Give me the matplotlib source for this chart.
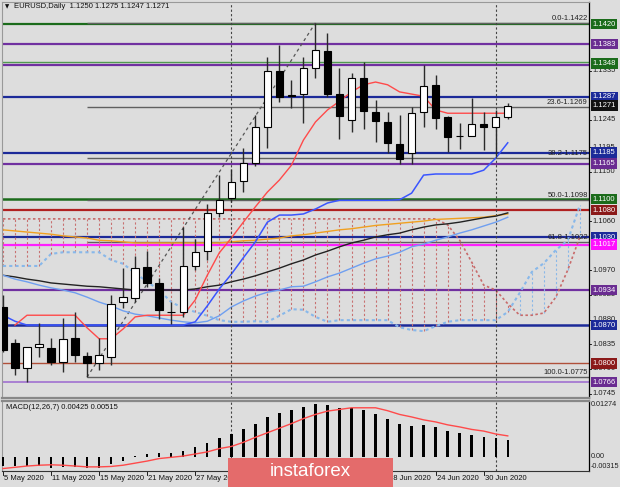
import numpy as np
import matplotlib.pyplot as plt
from matplotlib.patches import Rectangle

# EURUSD daily candles, 5 May 2020 .. 2 Jul 2020 (bar index 0..42)
opens = [1.0903, 1.0837, 1.0792, 1.0830, 1.0829, 1.0803, 1.0846, 1.0813, 1.0801, 1.0811,
         1.0912, 1.0920, 1.0977, 1.0946, 1.0894, 1.0893, 1.0978, 1.1006, 1.1074, 1.1103,
         1.1133, 1.1167, 1.1231, 1.1335, 1.1290, 1.1292, 1.1340, 1.1371, 1.1293, 1.1245,
         1.1322, 1.1259, 1.1241, 1.1201, 1.1184, 1.1259, 1.1309, 1.1251, 1.1215, 1.1215,
         1.1237, 1.1231, 1.1250]
highs = [1.0925, 1.0845, 1.0830, 1.0874, 1.0846, 1.0883, 1.0894, 1.0821, 1.0846, 1.0925,
         1.0974, 1.0996, 1.1006, 1.0956, 1.0913, 1.1050, 1.1028, 1.1092, 1.1144, 1.1156,
         1.1193, 1.1254, 1.1360, 1.1382, 1.1318, 1.1360, 1.1422, 1.1403, 1.1339, 1.1330,
         1.1351, 1.1281, 1.1260, 1.1254, 1.1269, 1.1345, 1.1327, 1.1252, 1.1239, 1.1284,
         1.1260, 1.1263, 1.1275]
lows = [1.0821, 1.0779, 1.0766, 1.0812, 1.0797, 1.0785, 1.0803, 1.0775, 1.0788, 1.0797,
        1.0901, 1.0912, 1.0940, 1.0881, 1.0872, 1.0885, 1.0971, 1.0989, 1.1067, 1.1095,
        1.1114, 1.1160, 1.1193, 1.1278, 1.1266, 1.1239, 1.1321, 1.1287, 1.1210, 1.1223,
        1.1228, 1.1205, 1.1184, 1.1165, 1.1165, 1.1232, 1.1229, 1.1187, 1.1191, 1.1215,
        1.1190, 1.1178, 1.1247]
closes = [1.0824, 1.0792, 1.0830, 1.0835, 1.0803, 1.0844, 1.0815, 1.0801, 1.0815, 1.0908,
          1.0921, 1.0975, 1.0946, 1.0898, 1.0893, 1.0978, 1.1003, 1.1074, 1.1098, 1.1132,
          1.1167, 1.1231, 1.1335, 1.1287, 1.1289, 1.1339, 1.1372, 1.1293, 1.1252, 1.1321,
          1.1261, 1.1242, 1.1202, 1.1173, 1.1257, 1.1307, 1.1248, 1.1214, 1.1216, 1.1237,
          1.1231, 1.1250, 1.1271]

# Ichimoku lines
tenkan = [np.nan, 1.0870, 1.0888, 1.0888, 1.0888, 1.0888, 1.0888, 1.0865, 1.0845, 1.0845,
          1.0863, 1.0885, 1.0888, 1.0888, 1.0888, 1.0888, 1.0916, 1.0961, 1.1002, 1.1029,
          1.1058, 1.1086, 1.1113, 1.1135, 1.1162, 1.1208, 1.1241, 1.1263, 1.1279, 1.1296,
          1.1309, 1.1314, 1.1309, 1.1296, 1.1292, 1.1288, 1.1263, 1.1257, 1.1257, 1.1257,
          1.1257, 1.1257, 1.1257]
kijun = [1.0888, 1.0877, 1.0870, 1.0870, 1.0870, 1.0870, 1.0870, 1.0870, 1.0870, 1.0870,
         1.0870, 1.0870, 1.0870, 1.0870, 1.0870, 1.0870, 1.0876, 1.0905, 1.0936, 1.0963,
         1.0993, 1.1022, 1.1058, 1.1071, 1.1071, 1.1073, 1.1082, 1.1093, 1.1098, 1.1098,
         1.1098, 1.1098, 1.1098, 1.1099, 1.1111, 1.1144, 1.1146, 1.1146, 1.1146, 1.1146,
         1.1153, 1.1175, 1.1203]
# cloud spans run 6 bars past the last candle (index 0..48)
span_a = [1.0978, 1.0978, 1.0978, 1.0978, 1.1000, 1.1003, 1.1003, 1.1003, 1.1003, 1.0989,
          1.0982, 1.0965, 1.0949, 1.0934, 1.0912, 1.0901, 1.0894, 1.0887, 1.0879, 1.0876,
          1.0876, 1.0877, 1.0876, 1.0887, 1.0899, 1.0898, 1.0885, 1.0876, 1.0879, 1.0879,
          1.0879, 1.0879, 1.0879, 1.0866, 1.0861, 1.0859, 1.0868, 1.0876, 1.0879, 1.0879,
          1.0879, 1.0879, 1.0894, 1.0929, 1.0967, 1.0983, 1.1007, 1.1025, 1.1089]
span_b = [1.1064] * 37 + [1.1053, 1.1025, 1.0985, 1.0943, 1.0934, 1.0909, 1.0888, 1.0888,
                          1.0892, 1.0921, 1.0971, 1.1031]

# moving averages
ma_black = [1.0961, 1.0958, 1.0954, 1.0951, 1.0947, 1.0945, 1.0943, 1.0941, 1.0940, 1.0938,
            1.0936, 1.0934, 1.0934, 1.0934, 1.0934, 1.0934, 1.0936, 1.0940, 1.0943, 1.0949,
            1.0954, 1.0960, 1.0967, 1.0974, 1.0982, 1.0989, 1.0998, 1.1005, 1.1013, 1.1020,
            1.1025, 1.1031, 1.1035, 1.1038, 1.1044, 1.1049, 1.1053, 1.1055, 1.1058, 1.1062,
            1.1066, 1.1069, 1.1075]
ma_blue = [1.0961, 1.0954, 1.0949, 1.0943, 1.0938, 1.0934, 1.0929, 1.0921, 1.0912, 1.0905,
           1.0896, 1.0890, 1.0887, 1.0883, 1.0879, 1.0876, 1.0874, 1.0877, 1.0887, 1.0903,
           1.0914, 1.0923, 1.0930, 1.0934, 1.0940, 1.0941, 1.0949, 1.0958, 1.0965, 1.0974,
           1.0983, 1.0991, 1.0996, 1.1003, 1.1013, 1.1018, 1.1025, 1.1031, 1.1038, 1.1044,
           1.1051, 1.1058, 1.1067]
ma_orange = [1.1044, 1.1042, 1.1040, 1.1038, 1.1036, 1.1033, 1.1031, 1.1029, 1.1025, 1.1024,
             1.1022, 1.1020, 1.1020, 1.1020, 1.1020, 1.1020, 1.1020, 1.1020, 1.1020, 1.1022,
             1.1024, 1.1025, 1.1027, 1.1029, 1.1033, 1.1035, 1.1038, 1.1041, 1.1044, 1.1046,
             1.1049, 1.1052, 1.1054, 1.1056, 1.1058, 1.1060, 1.1063, 1.1064, 1.1065, 1.1066,
             1.1067, 1.1070, 1.1073]

# MACD(12,26,7) histogram and signal
macd_hist = [-0.0020, -0.0022, -0.0022, -0.0022, -0.0026, -0.0024, -0.0024, -0.0026, -0.0026,
             -0.0016, -0.0010, 0.0002, 0.0008, 0.0010, 0.0010, 0.0016, 0.0025, 0.00353,
             0.00464, 0.00570, 0.00673, 0.00793, 0.00978, 0.01075, 0.01147, 0.01209,
             0.01274, 0.01267, 0.01195, 0.01185, 0.01130, 0.01034, 0.00913, 0.00793,
             0.00762, 0.00786, 0.00728, 0.00642, 0.00584, 0.00536, 0.00498, 0.00474, 0.00425]
macd_signal = [-0.0027, -0.0024, -0.0021, -0.0019, -0.0018, -0.0019, -0.0021, -0.0023,
               -0.0023, -0.0022, -0.0019, -0.0014, -0.0009, -0.0003, 0.0000, 0.0003, 0.0008,
               0.0013, 0.0021, 0.0026, 0.0036, 0.0048, 0.0059, 0.0070, 0.0081, 0.0093,
               0.0103, 0.0111, 0.0115, 0.0119, 0.0119, 0.0119, 0.0112, 0.0103, 0.0097,
               0.0090, 0.0085, 0.0078, 0.0073, 0.0067, 0.0063, 0.0056, 0.00515]

# horizontal support / resistance levels
level_values = [1.1420, 1.1383, 1.1350, 1.1346, 1.1287, 1.1185, 1.1165, 1.1100, 1.1080,
                1.1030, 1.1017, 1.0934, 1.0870, 1.0800, 1.0766]
level_colors = ["#1b6b1b", "#7030a0", "#4f9a4f", "#7030a0", "#1c2a99", "#1c2a99", "#7030a0",
                "#1b6b1b", "#b02020", "#1c2a99", "#ff20ff", "#7030a0", "#1c2a99", "#b0503a",
                "#a070d0"]
level_widths = [1.6, 1.6, 1.0, 1.6, 1.6, 1.6, 1.6, 1.8, 1.6, 1.6, 1.6, 1.6, 1.8, 1.0, 1.2]

# Fibonacci retracement (swing low bar 7 -> swing high bar 26)
fib_start, fib_end = 7, 26
fib_levels = [1.1422, 1.1269, 1.1175, 1.1098, 1.1022, 1.0775]
fib_names = ["0.0-1.1422", "23.6-1.1269", "38.2-1.1175", "50.0-1.1098", "61.8-1.1022",
             "100.0-1.0775"]

# right axis (plain grid prices; the ones fully hidden under tags are left out)
price_ticks = [1.1335, 1.1245, 1.1195, 1.1150, 1.1060, 1.0970, 1.0925, 1.0880, 1.0835,
               1.0790, 1.0745]
tag_values = [1.1420, 1.1383, 1.1348, 1.1287, 1.1271, 1.1185, 1.1165, 1.1100, 1.1080,
              1.1030, 1.1017, 1.0934, 1.0870, 1.0800, 1.0766]
tag_colors = ["#1b6b1b", "#6a2c91", "#1b6b1b", "#1c2a99", "#111111", "#1c2a99", "#6a2c91",
              "#1b6b1b", "#8b1a1a", "#1c2a99", "#ff10ff", "#6a2c91", "#1c2a99", "#8b1a1a",
              "#6a2c91"]

date_bars = [0, 4, 8, 12, 16, 20, 24, 28, 32, 36, 40]
date_labels = ["5 May 2020", "11 May 2020", "15 May 2020", "21 May 2020", "27 May 2020",
               "2 Jun 2020", "8 Jun 2020", "12 Jun 2020", "18 Jun 2020", "24 Jun 2020",
               "30 Jun 2020"]
month_breaks = [19, 41]

BG = "#dddddd"
FONT = "Liberation Sans"
FS = 5.5
W, H = 620, 487

plt.rcParams["font.family"] = [FONT, "DejaVu Sans"]

fig = plt.figure(figsize=(W / 100, H / 100), dpi=100, facecolor=BG)
ax = fig.add_axes([2 / W, (H - 398) / H, 587 / W, 396 / H], facecolor=BG)
axm = fig.add_axes([2 / W, (H - 471) / H, 587 / W, 70 / H], facecolor=BG)

XLIM = (-0.08, 48.76)
for a in (ax, axm):
    a.set_xlim(*XLIM)
    a.set_xticks([])
    a.set_yticks([])
    for side in ("left", "top"):
        a.spines[side].set_color("#999999")
    a.spines["right"].set_color("black")
    a.spines["right"].set_linewidth(0.9)
ax.set_ylim(1.07368, 1.14602)
axm.set_ylim(-0.00329, 0.01353)
ax.spines["bottom"].set_color("#888888")
ax.spines["bottom"].set_linewidth(1.6)
axm.spines["top"].set_color("#888888")
axm.spines["top"].set_linewidth(1.6)
axm.spines["bottom"].set_color("#333333")

n = len(opens)
x = np.arange(n)
xc = np.arange(len(span_a))

# levels
for v, c, lw in zip(level_values, level_colors, level_widths):
    ax.axhline(v, color=c, lw=lw, zorder=1)

# fibonacci
ax.plot([fib_start, fib_end], [fib_levels[-1], fib_levels[0]], color="#555555", lw=0.9,
        ls=(0, (2.5, 2.5)), zorder=2)
ax.hlines(fib_levels, fib_start, XLIM[1], color="#606060", lw=1.0, zorder=1.2)
for v, name in zip(fib_levels, fib_names):
    ax.text(0.998, v + 0.0002, name, transform=ax.get_yaxis_transform(), ha="right",
            va="bottom", fontsize=FS, color="#222222", zorder=6)

# ichimoku cloud hatching
for i in xc:
    a_, b_ = span_a[i], span_b[i]
    col = "#8ab8e8" if a_ > b_ else "#c87070"
    ax.vlines(i, min(a_, b_), max(a_, b_), color=col, lw=0.8, ls=(0, (2, 2)), zorder=1.5)
ax.plot(xc, span_a, color="#88b8ea", lw=1.5, ls=(0, (1.5, 1.5)), zorder=1.6)
ax.plot(xc, span_b, color="#c86a6a", lw=1.2, ls=(0, (1.5, 1.5)), zorder=1.6)

# moving averages and ichimoku lines
ax.plot(x, ma_orange, color="#f0a020", lw=1.0, zorder=2)
ax.plot(x, ma_black, color="#222222", lw=1.0, zorder=2)
ax.plot(x, ma_blue, color="#6f9ff0", lw=1.0, zorder=2)
ax.plot(x, kijun, color="#3a55ff", lw=1.1, zorder=2.2)
ax.plot(x, tenkan, color="#ff4a4a", lw=1.0, zorder=2.2)

# candles
o = np.array(opens)
c = np.array(closes)
ax.vlines(x, lows, highs, color="#2a2a2a", lw=1.0, zorder=3)
body_col = ["white" if cc >= oo else "black" for oo, cc in zip(o, c)]
body_h = np.where(np.abs(c - o) < 0.00005, 0.00002, c - o)
ax.bar(x, body_h, bottom=o, width=0.62, color=body_col, edgecolor="black", lw=0.8, zorder=4)

# month separators
for mb in month_breaks:
    for a in (ax, axm):
        a.axvline(mb, color="#444444", lw=0.8, ls=(0, (2, 2)), zorder=2.5)

# right price scale
ytr = ax.get_yaxis_transform()
for v in price_ticks:
    ax.text(1.006, v, f"{v:.4f}", transform=ytr, ha="left", va="center", fontsize=FS,
            color="#222222", clip_on=False, zorder=7)
    ax.plot([1.0, 1.004], [v, v], transform=ytr, color="black", lw=0.6, clip_on=False)
for v, col in zip(tag_values, tag_colors):
    ax.text(1.006, v, f"{v:.4f}", transform=ytr, ha="left", va="center", fontsize=FS,
            color="white", clip_on=False, zorder=8,
            bbox=dict(boxstyle="square,pad=0.22", fc=col, ec="none"))

# header texts
ax.text(0.0085, 0.988, "\u25bc", transform=ax.transAxes, fontsize=4, ha="center",
        va="center", color="#111111", family="DejaVu Sans")
ax.text(0.02, 0.988, "EURUSD,Daily  1.1250 1.1275 1.1247 1.1271", transform=ax.transAxes,
        fontsize=FS, ha="left", va="center", color="#111111")

# MACD
axm.bar(x, macd_hist, width=0.2, color="black", zorder=3)
axm.plot(x, macd_signal, color="#ff4a4a", lw=1.0, zorder=4)
axm.text(0.006, 0.91, "MACD(12,26,7) 0.00425 0.00515", transform=axm.transAxes,
         fontsize=FS, ha="left", va="center", color="#111111")
for lab, yy in [("0.01274", 0.943), ("0.00", 0.205), ("-0.00315", 0.07)]:
    axm.text(1.003, yy, lab, transform=axm.transAxes, ha="left", va="center",
             fontsize=5.2, color="#222222", clip_on=False)

# dates
for b, lab in zip(date_bars, date_labels):
    axm.text(b + 0.1, -0.1, lab, transform=axm.get_xaxis_transform(), ha="left",
             va="center", fontsize=FS, color="#111111", clip_on=False)
    axm.plot([b, b], [0, -0.05], transform=axm.get_xaxis_transform(), color="black",
             lw=0.6, clip_on=False)

# watermark
fig.patches.append(Rectangle((228 / W, 0), 165 / W, 29 / H, transform=fig.transFigure,
                             facecolor="#e46b6b", edgecolor="none", zorder=20))
fig.text(310 / W, (H - 472) / H, "instaforex", color="white", fontsize=13.5, ha="center",
         va="center", zorder=21)

fig.savefig("out.png", dpi=100, facecolor=BG)
